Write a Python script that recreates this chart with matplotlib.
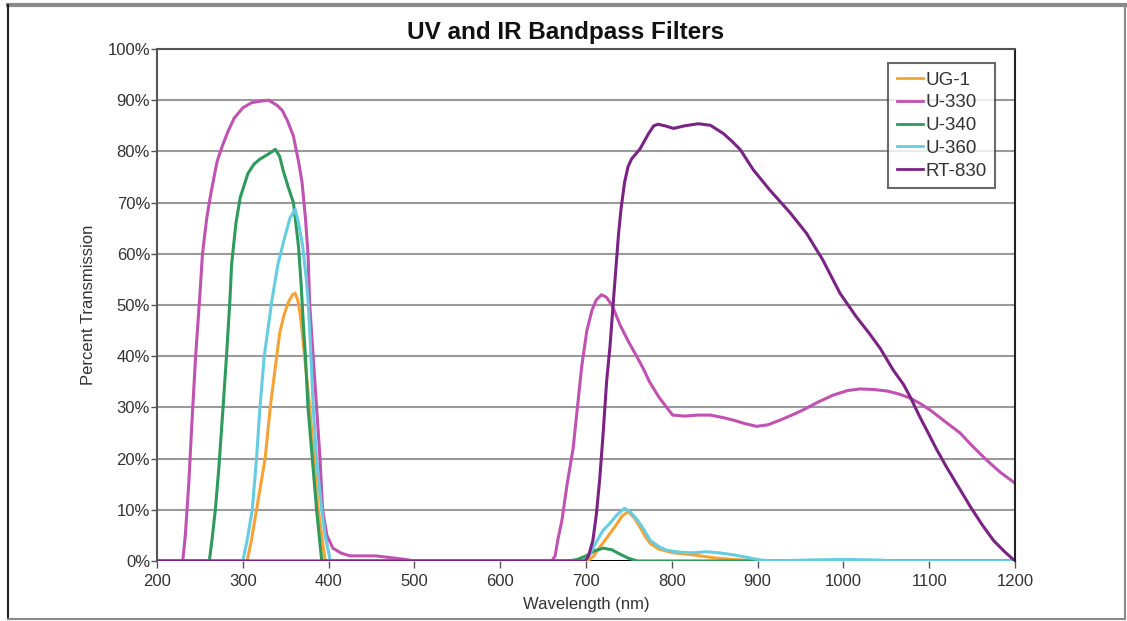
import matplotlib
matplotlib.use("Agg")
import matplotlib.pyplot as plt
from matplotlib.lines import Line2D

title = "UV and IR Bandpass Filters"
x_label = "Wavelength (nm)"
y_label = "Percent Transmission"
x_ticks = [200, 300, 400, 500, 600, 700, 800, 900, 1000, 1100, 1200]
y_ticks = [0, 10, 20, 30, 40, 50, 60, 70, 80, 90, 100]
y_tick_labels = ["0%", "10%", "20%", "30%", "40%", "50%", "60%", "70%", "80%", "90%", "100%"]

series_names = ["UG-1", "U-330", "U-340", "U-360", "RT-830"]
series_colors = ["#F7A235", "#C052B2", "#2E9A5C", "#66CCE0", "#7A2385"]

base_wl = [200, 1200]
base_pct = [0, 0]

ug1_wl = [200, 305, 310, 316, 321, 326, 332, 338, 343, 348, 353, 358, 361, 364, 367, 369, 372,
          378, 383, 388, 392, 396, 702, 709, 716, 722, 728, 735, 742, 749, 756, 763, 769, 775,
          785, 802, 820, 833, 850, 872, 900, 1200]
ug1_pct = [0, 0, 4, 10, 15, 20, 30, 38, 44.5, 48, 50.5, 52, 52.3, 51, 48, 45, 40,
           30, 20, 10, 5, 0, 0, 1, 2.7, 4, 5.4, 7, 8.8, 9.6, 8.5, 6.6, 4.8, 3.4,
           2.3, 1.6, 1.3, 1, 0.6, 0.3, 0, 0]

u330_wl = [200, 230, 233, 237, 241, 245, 250, 253, 258, 263, 270, 276, 283, 290, 300, 310, 320,
           330, 340, 346, 352, 359, 365, 369, 373, 376, 378, 382, 386, 390, 393, 398, 405, 415,
           425, 440, 455, 470, 490, 500, 660, 664, 667, 672, 678, 685, 690, 695, 701, 707, 712,
           718, 724, 731, 740, 749, 759, 767, 774, 785, 794, 801, 815, 830, 845, 860, 872, 886,
           899, 912, 926, 940, 953, 970, 988, 1005, 1019, 1035, 1051, 1065, 1078, 1090, 1101,
           1118, 1136, 1150, 1167, 1183, 1200]
u330_pct = [0, 0, 5, 15, 28, 40, 52, 60, 67, 72, 78, 81, 84, 86.5, 88.5, 89.5, 89.8,
            90, 89, 88, 86, 83, 78, 74, 67, 60, 50, 40, 30, 20, 10, 5, 2.5, 1.5,
            1, 1, 1, 0.7, 0.3, 0, 0, 1, 4, 8, 15, 22, 30, 38, 45, 49, 51,
            52, 51.5, 49.7, 46, 43, 40, 37.5, 35, 32, 30, 28.5, 28.3, 28.5, 28.5, 28, 27.5, 26.8,
            26.3, 26.6, 27.5, 28.5, 29.5, 31, 32.4, 33.3, 33.6, 33.5, 33.2, 32.6, 31.8, 30.7, 29.5,
            27.3, 25, 22.5, 19.7, 17.3, 15.2]

u340_wl = [200, 261, 264, 268, 272, 277, 281, 285, 287, 292, 297, 306, 313, 320, 330, 338, 343,
           347, 353, 359, 365, 368, 371, 373, 376, 381, 386, 389, 392, 680, 690, 700, 710, 720,
           730, 740, 750, 760, 1200]
u340_pct = [0, 0, 4, 10, 18, 30, 40, 51, 58, 66, 71, 75.7, 77.5, 78.5, 79.5, 80.4, 79,
            76.3, 73, 70, 61.3, 54, 45, 40, 30, 20, 10, 5, 0, 0, 0.3, 1, 2, 2.5,
            2.2, 1.3, 0.5, 0, 0]

u360_wl = [200, 300, 305, 311, 316, 320, 325, 334, 338, 341, 349, 355, 361, 365, 370, 374, 376,
           378, 380, 382, 386, 392, 396, 402, 698, 705, 713, 720, 728, 736, 745, 752, 760, 768,
           775, 785, 794, 810, 825, 840, 855, 872, 888, 903, 920, 960, 1000, 1040, 1060, 1200]
u360_pct = [0, 0, 4, 10, 20, 30, 40, 51, 55, 58, 63.3, 67, 68.7, 66, 61.3, 55, 51,
            45, 38, 30, 20, 10, 5, 0, 0, 1.5, 4, 6, 7.4, 9, 10.3, 9.5, 8, 6,
            4, 2.8, 2.1, 1.7, 1.6, 1.8, 1.6, 1.2, 0.7, 0.2, 0, 0.2, 0.3, 0.2, 0, 0]

rt830_wl = [200, 699, 703, 708, 712, 716, 720, 724, 728, 732, 738, 741, 745, 749, 753, 763, 773,
            779, 784, 792, 802, 815, 831, 845, 860, 870, 880, 895, 914, 938, 957, 976, 996, 1015,
            1030, 1043, 1058, 1070, 1078, 1088, 1097, 1108, 1120, 1134, 1148, 1162, 1175, 1188, 1200]
rt830_pct = [0, 0, 1, 4, 9, 16, 25, 35, 42, 51, 64, 69, 74, 77, 78.5, 80.5, 83.5,
             85, 85.3, 85, 84.5, 85, 85.4, 85.1, 83.5, 82, 80.3, 76.4, 72.5, 68, 64, 58.8, 52.3, 47.7,
             44.5, 41.5, 37.3, 34.5, 32, 28.5, 25.6, 22, 18.4, 14.5, 10.6, 7, 4, 1.8, 0]

series_wl = [ug1_wl, u330_wl, u340_wl, u360_wl, rt830_wl]
series_pct = [ug1_pct, u330_pct, u340_pct, u360_pct, rt830_pct]

W, H = 1127, 621
fig = plt.figure(figsize=(W / 100, H / 100), dpi=100)
fig.patch.set_facecolor("white")

ax = fig.add_axes([157 / W, 1 - 561 / H, (1015 - 157) / W, (561 - 49) / H])
ax.set_xlim(200, 1200)
ax.set_ylim(0, 100)

fam = ["Liberation Sans", "DejaVu Sans"]
tick_font = dict(family=fam, size=12, color="#333333")

for y in y_ticks[1:]:
    ax.axhline(y, color="#9a9a9a", lw=1.5, zorder=0)

ax.plot(base_wl, base_pct, color="black", lw=2.2, zorder=1, solid_capstyle="butt")
for wl, pct, name, col in zip(series_wl, series_pct, series_names, series_colors):
    ax.plot(wl, pct, color=col, lw=2.2, label=name, zorder=2, solid_joinstyle="round")

ax.set_xticks(x_ticks)
ax.set_xticklabels([str(v) for v in x_ticks], **tick_font)
ax.set_yticks(y_ticks)
ax.set_yticklabels(y_tick_labels, **tick_font)
ax.tick_params(axis="y", direction="out", length=4, width=1, color="#555555", pad=1)
ax.tick_params(axis="x", direction="out", length=5, width=1, color="#555555", pad=4)

for side in ["left", "right"]:
    ax.spines[side].set_linewidth(1.5)
ax.spines["left"].set_color("#555555")
ax.spines["right"].set_color("#222222")
ax.spines["top"].set_color("#555555")
ax.spines["top"].set_linewidth(1.5)
ax.spines["bottom"].set_visible(False)

ax.set_xlabel(x_label, fontsize=12, family=fam, color="#333333", labelpad=6)
ax.set_ylabel(y_label, fontsize=12, family=fam, color="#333333", labelpad=8)

leg = ax.legend(loc="upper right", bbox_to_anchor=((995 - 157) / (1015 - 157), 1 - (63 - 49) / (561 - 49)),
                frameon=True, fancybox=False, shadow=False, borderaxespad=0,
                prop=dict(family=fam, size=13.5),
                handlelength=1.4, handletextpad=0.12, labelspacing=0.3, borderpad=0.45)
leg.get_frame().set_edgecolor("#444444")
leg.get_frame().set_linewidth(1.5)
for t in leg.get_texts():
    t.set_color("#333333")
for h in leg.get_lines():
    h.set_linewidth(2)

fig.text(566 / W, 1 - 32 / H, title, ha="center", va="center", fontsize=17.5, fontweight="bold",
         family=fam, color="#111111")

# outer frame
fig.add_artist(Line2D([8 / W, 1125 / W], [1 - 5 / H, 1 - 5 / H], color="#8a8a8a", lw=3))
fig.add_artist(Line2D([8 / W, 8 / W], [1 - 5 / H, 1 - 619 / H], color="#222222", lw=1.5))
fig.add_artist(Line2D([8 / W, 1125 / W], [1 - 619 / H, 1 - 619 / H], color="#8a8a8a", lw=1.5))
fig.add_artist(Line2D([1125 / W, 1125 / W], [1 - 5 / H, 1 - 619 / H], color="#8a8a8a", lw=1.5))

fig.savefig("out.png", dpi=100, facecolor="white")
